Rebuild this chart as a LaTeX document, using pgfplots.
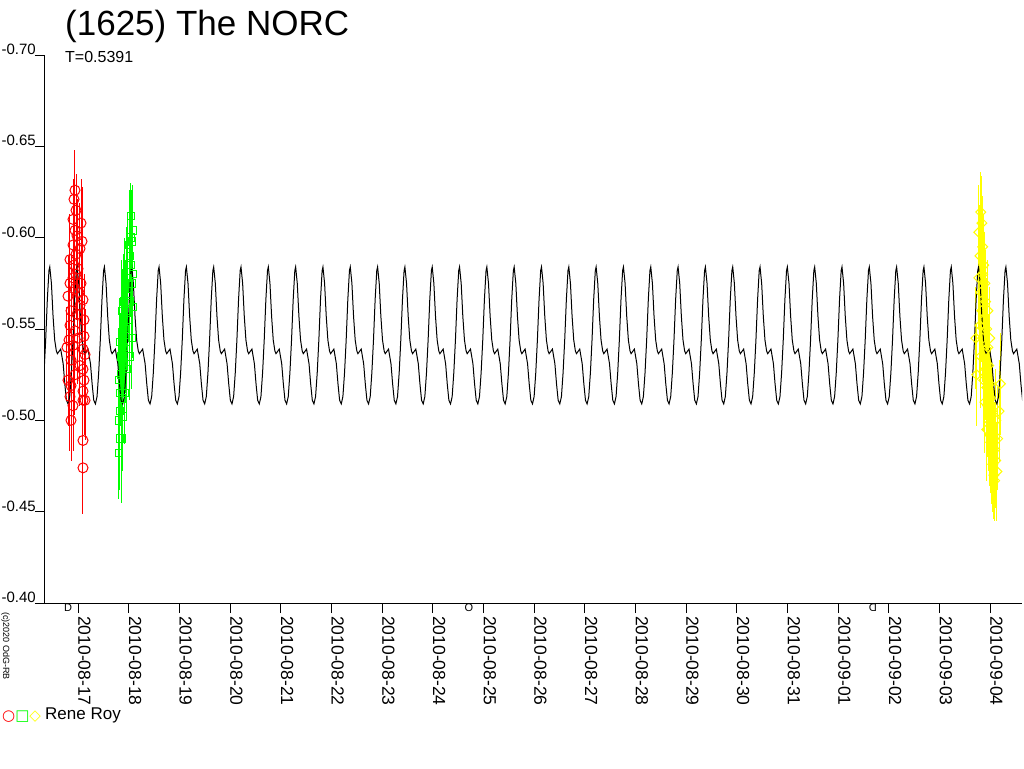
\documentclass[border=0pt]{standalone}
\usepackage{fontspec}
\setmainfont{Liberation Sans}
\newfontfamily\symfont{DejaVu Sans}
\usepackage{pgfplots}
\usepackage{pgfplotstable}
\pgfplotsset{compat=1.18}
\definecolor{pr}{RGB}{255,0,0}
\definecolor{pg}{RGB}{0,255,0}
\definecolor{py}{RGB}{255,255,0}

% x is in rotation cycles (P = 0.5391 d) counted from a maximum at 2010-08-16.443
\pgfplotstableread{
x y e
0.923 -0.626 0.022
0.887 -0.621 0.025
0.960 -0.615 0.020
0.850 -0.610 0.022
1.143 -0.608 0.024
0.923 -0.604 0.030
0.997 -0.601 0.020
0.850 -0.596 0.022
1.106 -0.594 0.025
0.960 -0.591 0.020
0.740 -0.588 0.025
0.887 -0.585 0.022
1.033 -0.583 0.020
0.850 -0.578 0.030
0.740 -0.575 0.022
1.143 -0.575 0.025
0.923 -0.572 0.020
0.667 -0.568 0.022
1.216 -0.566 0.025
1.106 -0.563 0.020
0.777 -0.560 0.030
0.997 -0.558 0.022
1.253 -0.555 0.025
0.740 -0.552 0.022
0.923 -0.549 0.030
1.253 -0.546 0.022
0.704 -0.544 0.025
0.850 -0.541 0.020
1.216 -0.539 0.022
1.290 -0.536 0.025
0.777 -0.533 0.030
1.106 -0.530 0.022
1.216 -0.528 0.025
0.923 -0.525 0.022
1.253 -0.522 0.030
0.777 -0.519 0.022
1.216 -0.516 0.025
0.740 -0.513 0.030
1.290 -0.511 0.022
0.850 -0.508 0.025
0.777 -0.500 0.022
1.216 -0.511 0.030
1.216 -0.489 0.030
1.216 -0.474 0.025
0.667 -0.522 0.025
0.630 -0.540 0.022
1.180 -0.598 0.030
0.960 -0.580 0.025
1.070 -0.570 0.030
1.033 -0.545 0.025
}\redtab

\pgfplotstableread{
x y e
2.53 -0.482 0.025
2.53 -0.500 0.028
2.57 -0.505 0.028
2.57 -0.515 0.024
2.53 -0.522 0.024
2.60 -0.525 0.028
2.64 -0.512 0.026
2.60 -0.535 0.024
2.68 -0.530 0.028
2.57 -0.543 0.024
2.64 -0.548 0.028
2.71 -0.540 0.024
2.68 -0.555 0.028
2.75 -0.550 0.024
2.64 -0.560 0.028
2.71 -0.565 0.026
2.79 -0.560 0.028
2.75 -0.572 0.028
2.86 -0.568 0.024
2.82 -0.578 0.028
2.90 -0.575 0.026
2.86 -0.585 0.028
2.93 -0.590 0.028
2.90 -0.596 0.030
2.97 -0.600 0.028
3.00 -0.598 0.028
3.04 -0.604 0.025
2.97 -0.585 0.028
3.00 -0.575 0.024
3.04 -0.562 0.028
3.00 -0.545 0.028
2.93 -0.535 0.024
2.82 -0.528 0.028
2.75 -0.515 0.028
2.68 -0.502 0.030
2.64 -0.490 0.035
2.57 -0.490 0.028
2.79 -0.543 0.028
2.86 -0.555 0.028
2.93 -0.565 0.028
3.04 -0.580 0.028
2.97 -0.612 0.018
}\greentab

\pgfplotstableread{
x y e
34.01 -0.603 0.026
34.08 -0.614 0.022
34.12 -0.608 0.026
34.05 -0.590 0.028
34.15 -0.595 0.028
34.19 -0.585 0.028
34.01 -0.578 0.028
34.08 -0.570 0.024
34.23 -0.575 0.028
34.12 -0.560 0.028
34.05 -0.552 0.028
34.26 -0.565 0.028
34.19 -0.555 0.028
34.15 -0.545 0.024
34.30 -0.550 0.028
34.23 -0.538 0.028
34.08 -0.535 0.028
34.34 -0.540 0.028
34.26 -0.528 0.028
34.19 -0.522 0.028
34.37 -0.530 0.028
34.30 -0.518 0.028
34.41 -0.520 0.028
34.23 -0.510 0.028
34.34 -0.508 0.028
34.45 -0.512 0.028
34.37 -0.500 0.028
34.48 -0.505 0.028
34.30 -0.495 0.028
34.41 -0.492 0.028
34.52 -0.498 0.028
34.45 -0.488 0.028
34.56 -0.490 0.028
34.48 -0.482 0.028
34.59 -0.484 0.026
34.52 -0.476 0.026
34.63 -0.478 0.026
34.56 -0.470 0.024
34.67 -0.472 0.027
34.59 -0.467 0.022
34.70 -0.490 0.028
34.34 -0.560 0.028
34.15 -0.580 0.028
34.41 -0.545 0.028
34.63 -0.500 0.028
33.90 -0.545 0.028
33.93 -0.525 0.028
34.80 -0.520 0.028
34.75 -0.505 0.028
}\yellowtab

\begin{document}
\begin{tikzpicture}
\useasboundingbox (0pt,0pt) rectangle (1024pt,-768pt);
\begin{axis}[
  at={(45pt,-603pt)}, anchor=south west,
  scale only axis, width=977pt, height=548pt,
  xmin=-0.175, xmax=35.59,
  ymin=-0.70, ymax=-0.40, y dir=reverse,
  axis x line*=bottom, axis y line*=left,
  axis line style={line width=1pt, -},
  tick align=outside, major tick length=10pt,
  tick style={line width=1pt, black},
  /pgf/number format/assume math mode=true,
  xtick={1.0332,2.8882,4.7431,6.5980,8.4530,10.3079,12.1629,14.0178,15.8728,17.7277,19.5826,21.4376,23.2925,25.1475,27.0024,28.8574,30.7123,32.5673,34.4222},
  xticklabels={2010-08-17,2010-08-18,2010-08-19,2010-08-20,2010-08-21,2010-08-22,2010-08-23,2010-08-24,2010-08-25,2010-08-26,2010-08-27,2010-08-28,2010-08-29,2010-08-30,2010-08-31,2010-09-01,2010-09-02,2010-09-03,2010-09-04},
  xticklabel shift=3pt,
  xticklabel style={rotate=-90, anchor=south west, inner sep=0pt, font=\fontsize{17.5}{20}\selectfont},
  ytick={-0.70,-0.65,-0.60,-0.55,-0.50,-0.45,-0.40},
  yticklabels={-0.70,-0.65,-0.60,-0.55,-0.50,-0.45,-0.40},
  yticklabel style={anchor=south east, inner sep=0pt, xshift=1pt, font=\fontsize{15}{18}\selectfont},
  clip=true,
]
\addplot[only marks, mark=o, mark size=5pt, color=pr, line width=1pt,
  error bars/.cd, y dir=both, y explicit, error mark=none,
  error bar style={pr, line width=1pt}]
  table[x=x, y=y, y error=e] {\redtab};
\addplot[only marks, mark=square, mark size=3.7pt, color=pg, line width=1pt,
  error bars/.cd, y dir=both, y explicit, error mark=none,
  error bar style={pg, line width=1pt}]
  table[x=x, y=y, y error=e] {\greentab};
\addplot[only marks, mark=square, mark size=3.5pt, mark options={rotate=45}, color=py, line width=1pt,
  error bars/.cd, y dir=both, y explicit, error mark=none,
  error bar style={py, line width=1pt}]
  table[x=x, y=y, y error=e] {\yellowtab};
% model lightcurve
\addplot[black, line width=1pt, no marks] coordinates {
(-0.21,-.526)(-0.15,-.544)(-0.09,-.566)(-0.03,-.582)
(0,-.584)(0.06,-.575)(0.12,-.557)(0.18,-.544)(0.24,-.538)(0.28,-.5365)(0.40,-.539)(0.49,-.531)(0.55,-.520)(0.61,-.511)(0.67,-.509)(0.73,-.513)(0.79,-.526)(0.85,-.544)(0.91,-.566)(0.97,-.582)
(1,-.584)(1.06,-.575)(1.12,-.557)(1.18,-.544)(1.24,-.538)(1.28,-.5365)(1.40,-.539)(1.49,-.531)(1.55,-.520)(1.61,-.511)(1.67,-.509)(1.73,-.513)(1.79,-.526)(1.85,-.544)(1.91,-.566)(1.97,-.582)
(2,-.584)(2.06,-.575)(2.12,-.557)(2.18,-.544)(2.24,-.538)(2.28,-.5365)(2.40,-.539)(2.49,-.531)(2.55,-.520)(2.61,-.511)(2.67,-.509)(2.73,-.513)(2.79,-.526)(2.85,-.544)(2.91,-.566)(2.97,-.582)
(3,-.584)(3.06,-.575)(3.12,-.557)(3.18,-.544)(3.24,-.538)(3.28,-.5365)(3.40,-.539)(3.49,-.531)(3.55,-.520)(3.61,-.511)(3.67,-.509)(3.73,-.513)(3.79,-.526)(3.85,-.544)(3.91,-.566)(3.97,-.582)
(4,-.584)(4.06,-.575)(4.12,-.557)(4.18,-.544)(4.24,-.538)(4.28,-.5365)(4.40,-.539)(4.49,-.531)(4.55,-.520)(4.61,-.511)(4.67,-.509)(4.73,-.513)(4.79,-.526)(4.85,-.544)(4.91,-.566)(4.97,-.582)
(5,-.584)(5.06,-.575)(5.12,-.557)(5.18,-.544)(5.24,-.538)(5.28,-.5365)(5.40,-.539)(5.49,-.531)(5.55,-.520)(5.61,-.511)(5.67,-.509)(5.73,-.513)(5.79,-.526)(5.85,-.544)(5.91,-.566)(5.97,-.582)
(6,-.584)(6.06,-.575)(6.12,-.557)(6.18,-.544)(6.24,-.538)(6.28,-.5365)(6.40,-.539)(6.49,-.531)(6.55,-.520)(6.61,-.511)(6.67,-.509)(6.73,-.513)(6.79,-.526)(6.85,-.544)(6.91,-.566)(6.97,-.582)
(7,-.584)(7.06,-.575)(7.12,-.557)(7.18,-.544)(7.24,-.538)(7.28,-.5365)(7.40,-.539)(7.49,-.531)(7.55,-.520)(7.61,-.511)(7.67,-.509)(7.73,-.513)(7.79,-.526)(7.85,-.544)(7.91,-.566)(7.97,-.582)
(8,-.584)(8.06,-.575)(8.12,-.557)(8.18,-.544)(8.24,-.538)(8.28,-.5365)(8.40,-.539)(8.49,-.531)(8.55,-.520)(8.61,-.511)(8.67,-.509)(8.73,-.513)(8.79,-.526)(8.85,-.544)(8.91,-.566)(8.97,-.582)
(9,-.584)(9.06,-.575)(9.12,-.557)(9.18,-.544)(9.24,-.538)(9.28,-.5365)(9.40,-.539)(9.49,-.531)(9.55,-.520)(9.61,-.511)(9.67,-.509)(9.73,-.513)(9.79,-.526)(9.85,-.544)(9.91,-.566)(9.97,-.582)
(10,-.584)(10.06,-.575)(10.12,-.557)(10.18,-.544)(10.24,-.538)(10.28,-.5365)(10.40,-.539)(10.49,-.531)(10.55,-.520)(10.61,-.511)(10.67,-.509)(10.73,-.513)(10.79,-.526)(10.85,-.544)(10.91,-.566)(10.97,-.582)
(11,-.584)(11.06,-.575)(11.12,-.557)(11.18,-.544)(11.24,-.538)(11.28,-.5365)(11.40,-.539)(11.49,-.531)(11.55,-.520)(11.61,-.511)(11.67,-.509)(11.73,-.513)(11.79,-.526)(11.85,-.544)(11.91,-.566)(11.97,-.582)
(12,-.584)(12.06,-.575)(12.12,-.557)(12.18,-.544)(12.24,-.538)(12.28,-.5365)(12.40,-.539)(12.49,-.531)(12.55,-.520)(12.61,-.511)(12.67,-.509)(12.73,-.513)(12.79,-.526)(12.85,-.544)(12.91,-.566)(12.97,-.582)
(13,-.584)(13.06,-.575)(13.12,-.557)(13.18,-.544)(13.24,-.538)(13.28,-.5365)(13.40,-.539)(13.49,-.531)(13.55,-.520)(13.61,-.511)(13.67,-.509)(13.73,-.513)(13.79,-.526)(13.85,-.544)(13.91,-.566)(13.97,-.582)
(14,-.584)(14.06,-.575)(14.12,-.557)(14.18,-.544)(14.24,-.538)(14.28,-.5365)(14.40,-.539)(14.49,-.531)(14.55,-.520)(14.61,-.511)(14.67,-.509)(14.73,-.513)(14.79,-.526)(14.85,-.544)(14.91,-.566)(14.97,-.582)
(15,-.584)(15.06,-.575)(15.12,-.557)(15.18,-.544)(15.24,-.538)(15.28,-.5365)(15.40,-.539)(15.49,-.531)(15.55,-.520)(15.61,-.511)(15.67,-.509)(15.73,-.513)(15.79,-.526)(15.85,-.544)(15.91,-.566)(15.97,-.582)
(16,-.584)(16.06,-.575)(16.12,-.557)(16.18,-.544)(16.24,-.538)(16.28,-.5365)(16.40,-.539)(16.49,-.531)(16.55,-.520)(16.61,-.511)(16.67,-.509)(16.73,-.513)(16.79,-.526)(16.85,-.544)(16.91,-.566)(16.97,-.582)
(17,-.584)(17.06,-.575)(17.12,-.557)(17.18,-.544)(17.24,-.538)(17.28,-.5365)(17.40,-.539)(17.49,-.531)(17.55,-.520)(17.61,-.511)(17.67,-.509)(17.73,-.513)(17.79,-.526)(17.85,-.544)(17.91,-.566)(17.97,-.582)
(18,-.584)(18.06,-.575)(18.12,-.557)(18.18,-.544)(18.24,-.538)(18.28,-.5365)(18.40,-.539)(18.49,-.531)(18.55,-.520)(18.61,-.511)(18.67,-.509)(18.73,-.513)(18.79,-.526)(18.85,-.544)(18.91,-.566)(18.97,-.582)
(19,-.584)(19.06,-.575)(19.12,-.557)(19.18,-.544)(19.24,-.538)(19.28,-.5365)(19.40,-.539)(19.49,-.531)(19.55,-.520)(19.61,-.511)(19.67,-.509)(19.73,-.513)(19.79,-.526)(19.85,-.544)(19.91,-.566)(19.97,-.582)
(20,-.584)(20.06,-.575)(20.12,-.557)(20.18,-.544)(20.24,-.538)(20.28,-.5365)(20.40,-.539)(20.49,-.531)(20.55,-.520)(20.61,-.511)(20.67,-.509)(20.73,-.513)(20.79,-.526)(20.85,-.544)(20.91,-.566)(20.97,-.582)
(21,-.584)(21.06,-.575)(21.12,-.557)(21.18,-.544)(21.24,-.538)(21.28,-.5365)(21.40,-.539)(21.49,-.531)(21.55,-.520)(21.61,-.511)(21.67,-.509)(21.73,-.513)(21.79,-.526)(21.85,-.544)(21.91,-.566)(21.97,-.582)
(22,-.584)(22.06,-.575)(22.12,-.557)(22.18,-.544)(22.24,-.538)(22.28,-.5365)(22.40,-.539)(22.49,-.531)(22.55,-.520)(22.61,-.511)(22.67,-.509)(22.73,-.513)(22.79,-.526)(22.85,-.544)(22.91,-.566)(22.97,-.582)
(23,-.584)(23.06,-.575)(23.12,-.557)(23.18,-.544)(23.24,-.538)(23.28,-.5365)(23.40,-.539)(23.49,-.531)(23.55,-.520)(23.61,-.511)(23.67,-.509)(23.73,-.513)(23.79,-.526)(23.85,-.544)(23.91,-.566)(23.97,-.582)
(24,-.584)(24.06,-.575)(24.12,-.557)(24.18,-.544)(24.24,-.538)(24.28,-.5365)(24.40,-.539)(24.49,-.531)(24.55,-.520)(24.61,-.511)(24.67,-.509)(24.73,-.513)(24.79,-.526)(24.85,-.544)(24.91,-.566)(24.97,-.582)
(25,-.584)(25.06,-.575)(25.12,-.557)(25.18,-.544)(25.24,-.538)(25.28,-.5365)(25.40,-.539)(25.49,-.531)(25.55,-.520)(25.61,-.511)(25.67,-.509)(25.73,-.513)(25.79,-.526)(25.85,-.544)(25.91,-.566)(25.97,-.582)
(26,-.584)(26.06,-.575)(26.12,-.557)(26.18,-.544)(26.24,-.538)(26.28,-.5365)(26.40,-.539)(26.49,-.531)(26.55,-.520)(26.61,-.511)(26.67,-.509)(26.73,-.513)(26.79,-.526)(26.85,-.544)(26.91,-.566)(26.97,-.582)
(27,-.584)(27.06,-.575)(27.12,-.557)(27.18,-.544)(27.24,-.538)(27.28,-.5365)(27.40,-.539)(27.49,-.531)(27.55,-.520)(27.61,-.511)(27.67,-.509)(27.73,-.513)(27.79,-.526)(27.85,-.544)(27.91,-.566)(27.97,-.582)
(28,-.584)(28.06,-.575)(28.12,-.557)(28.18,-.544)(28.24,-.538)(28.28,-.5365)(28.40,-.539)(28.49,-.531)(28.55,-.520)(28.61,-.511)(28.67,-.509)(28.73,-.513)(28.79,-.526)(28.85,-.544)(28.91,-.566)(28.97,-.582)
(29,-.584)(29.06,-.575)(29.12,-.557)(29.18,-.544)(29.24,-.538)(29.28,-.5365)(29.40,-.539)(29.49,-.531)(29.55,-.520)(29.61,-.511)(29.67,-.509)(29.73,-.513)(29.79,-.526)(29.85,-.544)(29.91,-.566)(29.97,-.582)
(30,-.584)(30.06,-.575)(30.12,-.557)(30.18,-.544)(30.24,-.538)(30.28,-.5365)(30.40,-.539)(30.49,-.531)(30.55,-.520)(30.61,-.511)(30.67,-.509)(30.73,-.513)(30.79,-.526)(30.85,-.544)(30.91,-.566)(30.97,-.582)
(31,-.584)(31.06,-.575)(31.12,-.557)(31.18,-.544)(31.24,-.538)(31.28,-.5365)(31.40,-.539)(31.49,-.531)(31.55,-.520)(31.61,-.511)(31.67,-.509)(31.73,-.513)(31.79,-.526)(31.85,-.544)(31.91,-.566)(31.97,-.582)
(32,-.584)(32.06,-.575)(32.12,-.557)(32.18,-.544)(32.24,-.538)(32.28,-.5365)(32.40,-.539)(32.49,-.531)(32.55,-.520)(32.61,-.511)(32.67,-.509)(32.73,-.513)(32.79,-.526)(32.85,-.544)(32.91,-.566)(32.97,-.582)
(33,-.584)(33.06,-.575)(33.12,-.557)(33.18,-.544)(33.24,-.538)(33.28,-.5365)(33.40,-.539)(33.49,-.531)(33.55,-.520)(33.61,-.511)(33.67,-.509)(33.73,-.513)(33.79,-.526)(33.85,-.544)(33.91,-.566)(33.97,-.582)
(34,-.584)(34.06,-.575)(34.12,-.557)(34.18,-.544)(34.24,-.538)(34.28,-.5365)(34.40,-.539)(34.49,-.531)(34.55,-.520)(34.61,-.511)(34.67,-.509)(34.73,-.513)(34.79,-.526)(34.85,-.544)(34.91,-.566)(34.97,-.582)
(35,-.584)(35.06,-.575)(35.12,-.557)(35.18,-.544)(35.24,-.538)(35.28,-.5365)(35.40,-.539)(35.49,-.531)(35.55,-.520)(35.61,-.511)(35.67,-.509)
};
\end{axis}
% titles and annotations
\node[anchor=base west, inner sep=0pt] at (65pt,-36pt) {\fontsize{35}{40}\selectfont (1625) The NORC};
\node[anchor=base west, inner sep=0pt] at (65pt,-63pt) {\fontsize{16}{18}\selectfont T=0.5391};
\node[anchor=base west, inner sep=0pt] at (45pt,-719pt) {\fontsize{17}{20}\selectfont Rene Roy};
\node[anchor=base west, inner sep=0pt] at (2pt,-720pt) {\symfont\fontsize{15}{17}\selectfont\textcolor{pr}{○}\textcolor{pg}{□}\textcolor{py}{◇}};
\node[rotate=-90, anchor=south west, inner sep=0pt] at (1pt,-612pt) {\fontsize{9}{10}\selectfont (c)2020 OdG-RB};
\node[anchor=north, inner sep=0pt] at (68pt,-604pt) {\fontsize{11}{12}\selectfont D};
\node[anchor=north, inner sep=0pt] at (469pt,-604pt) {\fontsize{11}{12}\selectfont O};
\node[anchor=north, inner sep=0pt, xscale=-1] at (873pt,-604pt) {\fontsize{11}{12}\selectfont D};
\end{tikzpicture}
\end{document}
